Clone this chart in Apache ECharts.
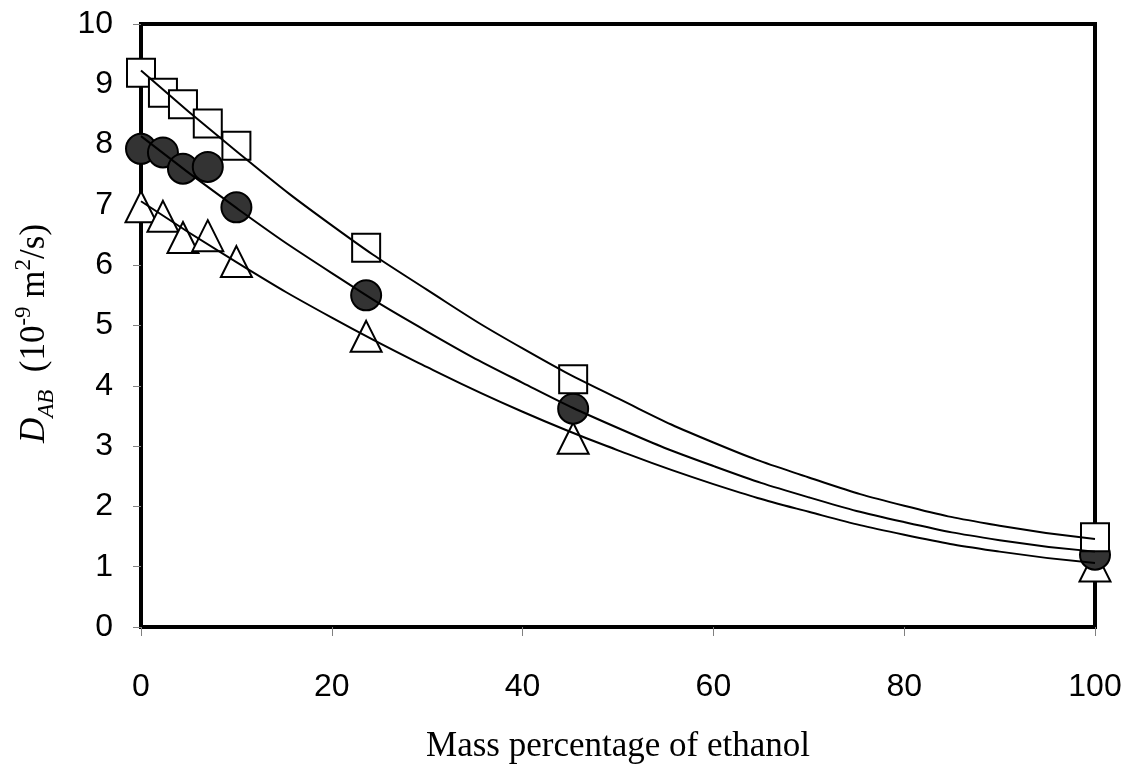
<!DOCTYPE html>
<html>
<head>
<meta charset="utf-8">
<script src="https://cdn.jsdelivr.net/npm/echarts@6/dist/echarts.min.js"></script>
<style>
  html, body { margin: 0; padding: 0; background: #fff; }
  #chart { width: 1136px; height: 769px; }
</style>
</head>
<body>
<div id="chart"></div>
<script>
// measured points (mass % ethanol vs D_AB, 1e-9 m2/s)
var massPct = [0, 2.3, 4.4, 7, 10, 23.6, 45.3, 100]
var squareVals = [9.19, 8.86, 8.67, 8.35, 7.98, 6.29, 4.11, 1.49]
var circleVals = [7.93, 7.87, 7.60, 7.63, 6.96, 5.50, 3.62, 1.20]
var triangleVals = [6.97, 6.81, 6.46, 6.49, 6.06, 4.82, 3.13, 1.01]

// trend curves, every 10 %
var fitX = [0, 10, 20, 30, 40, 50, 60, 70, 80, 90, 100]
var squareFit = [9.23, 7.89, 6.66, 5.59, 4.62, 3.79, 3.06, 2.48, 2.01, 1.68, 1.46]
var circleFit = [8.14, 6.95, 5.87, 4.90, 4.05, 3.30, 2.67, 2.15, 1.74, 1.44, 1.25]
var triangleFit = [7.06, 6.05, 5.13, 4.31, 3.57, 2.93, 2.37, 1.91, 1.53, 1.25, 1.06]

var xTicks = [0, 20, 40, 60, 80, 100]
var yTicks = [0, 1, 2, 3, 4, 5, 6, 7, 8, 9, 10]

function pairs(xs, ys) {
  return xs.map(function (x, i) { return [x, ys[i]] })
}

var chart = echarts.init(document.getElementById('chart'))

var tickFont = { color: '#000', fontFamily: 'Liberation Sans', fontSize: 32 }
var serif = 'Liberation Serif'

function scatter(symbol, size, fill, vals, z) {
  return {
    type: 'scatter',
    data: pairs(massPct, vals),
    symbol: symbol,
    symbolSize: size,
    clip: false,
    z: z,
    itemStyle: { color: fill, borderColor: '#000', borderWidth: 2, opacity: 1 }
  }
}

function curve(vals) {
  return {
    type: 'line',
    data: pairs(fitX, vals),
    smooth: true,
    showSymbol: false,
    z: 10,
    lineStyle: { color: '#000', width: 2 }
  }
}

chart.setOption({
  animation: false,
  grid: {
    left: 141,
    right: 41,
    top: 24,
    bottom: 135,
    show: true,
    borderColor: '#000',
    borderWidth: 4
  },
  xAxis: {
    type: 'value',
    min: 0,
    max: 100,
    interval: 20,
    splitLine: { show: false },
    axisLine: { show: false },
    axisTick: { show: true, length: 9, lineStyle: { color: '#808080', width: 1 } },
    axisLabel: Object.assign({ margin: 44, formatter: function (v) { return xTicks.indexOf(v) >= 0 ? v : '' } }, tickFont),
    name: 'Mass percentage of ethanol',
    nameLocation: 'middle',
    nameGap: 102,
    nameTextStyle: { color: '#000', fontFamily: serif, fontSize: 35 }
  },
  yAxis: {
    type: 'value',
    min: 0,
    max: 10,
    interval: 1,
    splitLine: { show: false },
    axisLine: { show: false },
    axisTick: { show: true, length: 8, lineStyle: { color: '#808080', width: 1 } },
    axisLabel: Object.assign({ margin: 28, formatter: function (v) { return yTicks.indexOf(v) >= 0 ? v : '' } }, tickFont),
    name: '{d|D}{sub|AB}{n|  (10}{sup|-9}{n| m}{sup|2}{n|/s)}',
    nameLocation: 'middle',
    nameRotate: 90,
    nameGap: 83,
    nameTextStyle: {
      color: '#000',
      fontFamily: serif,
      fontSize: 35,
      padding: [0, 16, 0, 0],
      rich: {
        d: { fontFamily: serif, fontStyle: 'italic', fontSize: 35, lineHeight: 46, color: '#000' },
        sub: { fontFamily: serif, fontStyle: 'italic', fontSize: 23, lineHeight: 23, verticalAlign: 'bottom', color: '#000' },
        n: { fontFamily: serif, fontSize: 35, lineHeight: 46, color: '#000' },
        sup: { fontFamily: serif, fontSize: 23, lineHeight: 23, verticalAlign: 'top', color: '#000' }
      }
    }
  },
  series: [
    scatter('triangle', 31, '#fff', triangleVals, 3),
    scatter('circle', 30, '#333333', circleVals, 4),
    scatter('rect', 28, '#fff', squareVals, 5),
    curve(squareFit),
    curve(circleFit),
    curve(triangleFit)
  ]
})
</script>
</body>
</html>
